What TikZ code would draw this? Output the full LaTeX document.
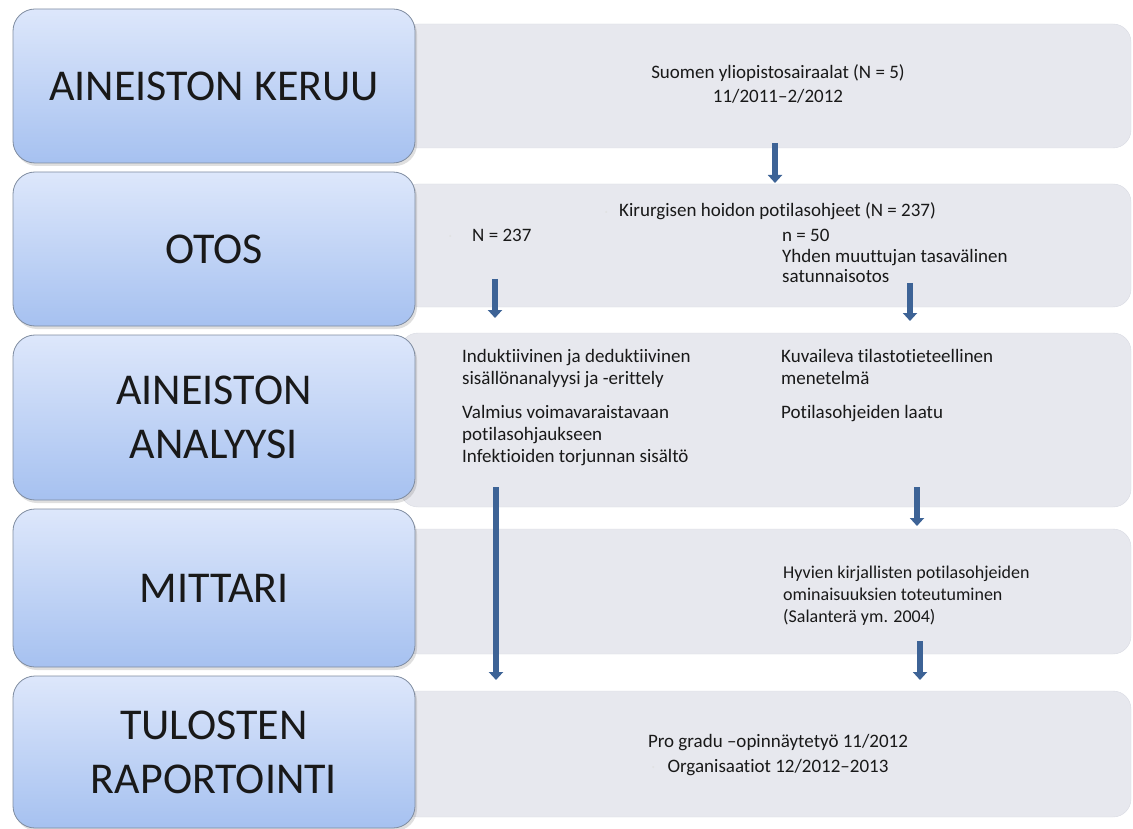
\documentclass[tikz,border=0pt]{standalone}
\usepackage{fontspec}
\setmainfont{Carlito}[Ligatures={TeX,NoCommon}]
\usetikzlibrary{positioning, arrows.meta, shadows}

\definecolor{phasetop}{HTML}{DDE7FB}
\definecolor{phasebot}{HTML}{A6C1F0}
\definecolor{phaseline}{HTML}{7F8CA0}
\definecolor{panelgray}{HTML}{E7E8EE}
\definecolor{panelline}{HTML}{D8DAE2}
\definecolor{arrowblue}{HTML}{3D6396}

\tikzset{
  phase/.style={draw=phaseline, line width=0.8pt, rounded corners=22pt,
    top color=phasetop, bottom color=phasebot, minimum width=402pt,
    align=center, font=\fontsize{44}{54}\selectfont, text=black!90,
    drop shadow={shadow xshift=2pt, shadow yshift=-3pt, opacity=0.25}},
  panel/.style={draw=panelline, fill=panelgray, rounded corners=18pt,
    minimum width=731pt, inner sep=0pt},
  txt/.style={font=\fontsize{19}{22}\selectfont, text=black!90,
    inner sep=0pt, align=left},
  flow/.style={draw=arrowblue, line width=6pt,
    -{Triangle[width=14pt,length=8pt]}},
  bul/.style={fill=black!12, circle, inner sep=0pt, minimum size=2pt}
}

\begin{document}
\begin{tikzpicture}[x=1pt, y=-1pt]
        \useasboundingbox (0,0) rectangle (1133,829);

         % gray panels
        \node[panel, minimum height=124pt] (p1) at (765.5,86) {};
        \node[panel, minimum height=123pt] (p2) at (765.5,245.5) {};
        \node[panel, minimum height=174pt] (p3) at (765.5,420) {};
        \node[panel, minimum height=125pt] (p4) at (765.5,591.5) {};
        \node[panel, minimum height=126pt] (p5) at (765.5,754) {};

         % phases
        \node[phase, minimum height=154pt] (keruu) at (214,86) {AINEISTON KERUU};
        \node[phase, minimum height=154pt] (otos) at (214,249) {OTOS};
        \node[phase, minimum height=165pt] (analyysi) at (214,417.5) {AINEISTON\\ANALYYSI};
        \node[phase, minimum height=158pt] (mittari) at (214,588) {MITTARI};
        \node[phase, minimum height=152pt] (raportointi) at (214,752) {TULOSTEN\\RAPORTOINTI};

         % keruu (base = last line)
        \node[txt, align=center, font=\fontsize{19}{24}\selectfont, anchor=base]
          (sairaalat) at (778,103) {Suomen yliopistosairaalat (N = 5)\\11/2011–2/2012};

         % otos
        \node[bul] (b1) at (606,212) {};
        \node[txt, anchor=base west] (ohjeet) at (619,217) {Kirurgisen hoidon potilasohjeet (N = 237)};
        \node[bul] (b2) at (450,236) {};
        \node[txt, anchor=base west] (kaikki) at (472,242) {N = 237};
        \node[txt, font=\fontsize{19}{20.5}\selectfont, anchor=base west]
          (otanta) at (782,283) {n = 50\\Yhden muuttujan tasavälinen\\satunnaisotos};

         % analyysi
        \node[txt, anchor=base west] (sisalto) at (462,462)
          {Induktiivinen ja deduktiivinen\\sisällönanalyysi ja -erittely\\[12pt]
           Valmius voimavaraistavaan\\potilasohjaukseen\\Infektioiden torjunnan sisältö};
        \node[txt, anchor=base west] (tilasto) at (781,418)
          {Kuvaileva tilastotieteellinen\\menetelmä\\[12pt]Potilasohjeiden laatu};

         % mittari
        \node[txt, font=\fontsize{18}{22}\selectfont, anchor=base west] (hyvat) at (783,622)
          {Hyvien kirjallisten potilasohjeiden\\ominaisuuksien toteutuminen\\(Salanterä ym. 2004)};

         % raportointi
        \node[bul] (b3) at (653,767) {};
        \node[txt, align=center, font=\fontsize{19}{25}\selectfont, anchor=base]
          (gradu) at (778,772) {Pro gradu –opinnäytetyö 11/2012\\Organisaatiot 12/2012–2013};

         % arrows
        \coordinate (a1s) at (775,143);  \coordinate (a1e) at (775,183);
        \coordinate (a2s) at (495,279);  \coordinate (a2e) at (495,318);
        \coordinate (a3s) at (910,283);  \coordinate (a3e) at (910,321);
        \coordinate (a4s) at (496,487);  \coordinate (a4e) at (496,680);
        \coordinate (a5s) at (917,487);  \coordinate (a5e) at (917,526);
        \coordinate (a6s) at (920,641);  \coordinate (a6e) at (920,680);
        \draw[flow] (a1s) -- (a1e);
        \draw[flow] (a2s) -- (a2e);
        \draw[flow] (a3s) -- (a3e);
        \draw[flow] (a4s) -- (a4e);
        \draw[flow] (a5s) -- (a5e);
        \draw[flow] (a6s) -- (a6e);
\end{tikzpicture}
\end{document}
